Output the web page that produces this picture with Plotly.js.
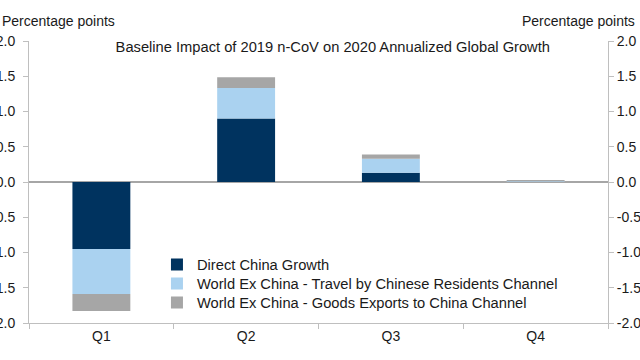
<!DOCTYPE html>
<html>
<head>
<meta charset="utf-8">
<script src="https://cdn.plot.ly/plotly-3.0.1.min.js"></script>
<style>html,body{margin:0;padding:0;background:#fff;}#chart{width:640px;height:360px;}</style>
</head>
<body>
<div id="chart"></div>
<script>
const quarters = ["Q1", "Q2", "Q3", "Q4"];
const directChina = [-0.95, 0.90, 0.13, 0.00];
const travelChannel = [-0.64, 0.435, 0.20, 0.01];
const goodsChannel = [-0.24, 0.15, 0.06, 0.02];
const seriesNames = [
  "Direct China Growth",
  "World Ex China - Travel by Chinese Residents Channel",
  "World Ex China - Goods Exports to China Channel"
];
const tickValues = [-2, -1.5, -1, -0.5, 0, 0.5, 1, 1.5, 2];
const tickLabels = ["-2.0", "-1.5", "-1.0", "-0.5", "0.0", "0.5", "1.0", "1.5", "2.0"];
const titleText = "Baseline Impact of 2019 n-CoV on 2020 Annualized Global Growth";
const unitLabel = "Percentage points";

const colors = ["#00335f", "#aad2f0", "#a6a6a6"];
const font = {family: "Liberation Sans, Arial, sans-serif", size: 14, color: "#1a1a1a"};
const bigFont = Object.assign({}, font, {size: 14.7});
const axisColor = "#bfbfbf";
const legendIds = ["legend", "legend2", "legend3"];

const traces = [directChina, travelChannel, goodsChannel].map((vals, i) => ({
  type: "bar",
  x: quarters,
  y: vals,
  name: seriesNames[i],
  legend: legendIds[i],
  marker: {color: colors[i], line: {width: 0}},
  hoverinfo: "skip"
}));
// invisible trace so the right-hand mirror axis is drawn
traces.push({
  type: "scatter",
  x: quarters,
  y: directChina,
  yaxis: "y2",
  mode: "lines",
  line: {width: 0, color: "rgba(0,0,0,0)"},
  showlegend: false,
  hoverinfo: "skip"
});

const yCommon = {
  range: [-2, 2],
  autorange: false,
  tickvals: tickValues,
  ticktext: tickLabels,
  showgrid: false,
  showline: true,
  linecolor: axisColor,
  linewidth: 1,
  ticks: "outside",
  ticklen: 5,
  tickcolor: axisColor,
  tickfont: font,
  fixedrange: true
};

const plotTop = 41, plotBottom = 323;
const rowCenters = [265, 284, 303];
function legendAt(px) {
  return {
    x: 0.221, xanchor: "left",
    y: (plotBottom - px) / (plotBottom - plotTop), yanchor: "middle",
    bgcolor: "rgba(0,0,0,0)", font: bigFont, itemclick: false
  };
}

const layout = {
  width: 640,
  height: 360,
  margin: {l: 29, r: 32, t: plotTop, b: 360 - plotBottom},
  paper_bgcolor: "#ffffff",
  plot_bgcolor: "#ffffff",
  font: font,
  barmode: "relative",
  bargap: 0.6,
  showlegend: true,
  title: {
    text: titleText,
    font: bigFont,
    x: 0.52,
    xanchor: "center",
    y: 1 - 47 / 360,
    yanchor: "middle"
  },
  xaxis: {
    type: "category",
    showgrid: false,
    showline: true,
    linecolor: axisColor,
    ticks: "outside",
    tickson: "boundaries",
    ticklen: 5,
    tickcolor: axisColor,
    tickfont: font,
    zeroline: false
  },
  yaxis: Object.assign({}, yCommon, {
    side: "left",
    ticklabelstandoff: 5,
    zeroline: true,
    zerolinecolor: "#a6a6a6",
    zerolinewidth: 2
  }),
  yaxis2: Object.assign({}, yCommon, {
    side: "right",
    overlaying: "y",
    zeroline: false
  }),
  legend: legendAt(rowCenters[0]),
  legend2: legendAt(rowCenters[1]),
  legend3: legendAt(rowCenters[2]),
  annotations: [
    {xref: "paper", yref: "paper", x: -29 / 579, xanchor: "left", y: 1, yanchor: "bottom", yshift: 10,
     text: unitLabel, showarrow: false, font: font},
    {xref: "paper", yref: "paper", x: 1 + 29 / 579, xanchor: "right", y: 1, yanchor: "bottom", yshift: 10,
     text: unitLabel, showarrow: false, font: font}
  ]
};

Plotly.newPlot("chart", traces, layout, {staticPlot: true, displayModeBar: false});
</script>
</body>
</html>
